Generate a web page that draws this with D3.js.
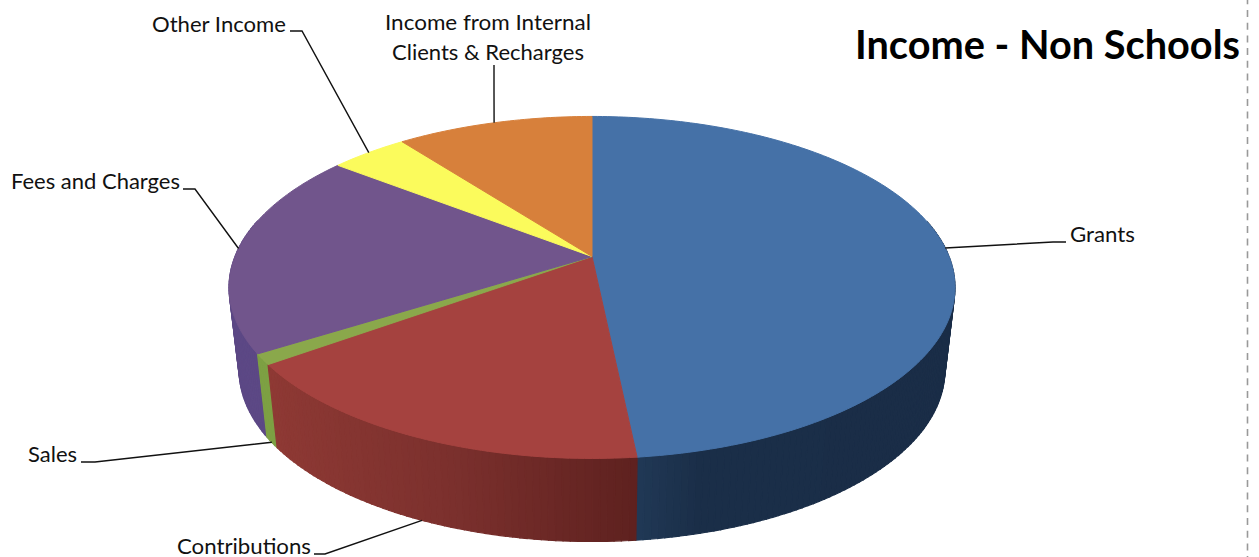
<!DOCTYPE html>
<html><head><meta charset="utf-8">
<script src="https://cdn.jsdelivr.net/npm/d3@7"></script>
<style>html,body{margin:0;padding:0;background:#fff;overflow:hidden}svg{display:block}text{font-family:Lato,"Open Sans",sans-serif;fill:#111}</style>
</head><body><svg id="c" width="1259" height="557"></svg>
<script>
const categories=["Grants","Contributions","Sales","Fees and Charges","Other Income","Income from Internal Clients & Recharges"];
const values=[48.3,16.7,1.0,19.4,4.1,10.4];
const topColors=["#4571a7","#a5423f","#8aa84b","#71558c","#fbfb5c","#d7803b"];
const wallStops=[["#25405f","#1a2e48","#1a2d47"],["#8e3934","#7b302d","#5e211f"],["#7da043","#7da043","#7da043"],["#5c4885","#5c4885","#4d3c72"],["#b8b843","#b8b843","#b8b843"],["#9c5d2b","#9c5d2b","#9c5d2b"]];
const title="Income - Non Schools";

// layout
const cx=592,K=0.181;
const topDisc={apex:256.5,R:357,S:165.4}, baseDisc={apex:339.5,R:347,S:165.4};
const project=(disc,a)=>{const X=Math.sin(a),Y=-Math.cos(a),w=1-K*Y;return [cx+disc.R*X/w,disc.apex+disc.S*Y/w];};
const labelLayout=[
 {lines:[{t:"Grants",x:1070,y:241.7,w:65}],elbow:[1053,242],end:[1066,242],disc:"top"},
 {lines:[{t:"Contributions",x:177,y:553.7,w:134}],elbow:[325,554],end:[314,554],disc:"base"},
 {lines:[{t:"Sales",x:28,y:461.7,w:49}],elbow:[95,462],end:[81,462],disc:"base"},
 {lines:[{t:"Fees and Charges",x:11,y:188.7,w:169}],elbow:[195,189],end:[183,189],disc:"top"},
 {lines:[{t:"Other Income",x:152,y:31.5,w:134}],elbow:[302,31],end:[290,31],disc:"top"},
 {lines:[{t:"Income from Internal",x:385,y:29.5,w:206},{t:"Clients & Recharges",x:392,y:59.5,w:192}],elbow:[494,90],end:[494,65],disc:"top"}
];

const svg=d3.select("#c");
const arcs=d3.pie().sort(null).startAngle(0).endAngle(2*Math.PI)(values);
const step=Math.PI/180;
const sample=(d)=>{const n=Math.max(2,Math.ceil((d.endAngle-d.startAngle)/step));return d3.range(n+1).map(i=>d.startAngle+(d.endAngle-d.startAngle)*i/n);};
const line=d3.line();

// walls, one narrow strip per step, coloured by horizontal position
const strips=[];
arcs.forEach((d,i)=>{
  const as=sample(d),pts=as.map(a=>project(topDisc,a)[0]);
  const lo=d3.min(pts),hi=d3.max(pts);
  const color=d3.scaleLinear().domain([lo,lo+(hi-lo)*(i===0?0.3:0.5),hi]).range(wallStops[i]).clamp(true);
  for(let j=0;j<as.length-1;j++){
    const a=as[j],b=as[j+1],y=-Math.cos((a+b)/2);
    if(y<-0.22) continue; // hidden behind the top surface
    const p=[project(topDisc,a),project(topDisc,b),project(baseDisc,b),project(baseDisc,a)];
    strips.push({p,y,fill:color((p[0][0]+p[1][0])/2)});
  }
});
strips.sort((a,b)=>a.y-b.y);
svg.append("g").selectAll("path").data(strips).join("path")
  .attr("d",d=>line(d.p)+"Z").attr("fill",d=>d.fill).attr("stroke",d=>d.fill).attr("stroke-width",1.2);

// top surface
svg.append("g").selectAll("path").data(arcs).join("path")
  .attr("d",d=>line([[cx,topDisc.apex],...sample(d).map(a=>project(topDisc,a))])+"Z")
  .attr("fill",(d,i)=>topColors[i]).attr("stroke",(d,i)=>topColors[i]).attr("stroke-width",1);

// leaders
svg.append("g").selectAll("path").data(arcs).join("path")
  .attr("d",(d,i)=>{const L=labelLayout[i];const anchor=project(L.disc==="top"?topDisc:baseDisc,(d.startAngle+d.endAngle)/2);return line([anchor,L.elbow,L.end]);})
  .attr("fill","none").attr("stroke","#111").attr("stroke-width",1.4);

// labels
const labelG=svg.append("g");
labelLayout.forEach(L=>L.lines.forEach(l=>{
  labelG.append("text").attr("x",l.x).attr("y",l.y).attr("font-size",21.5).attr("textLength",l.w).attr("lengthAdjust","spacingAndGlyphs").text(l.t);
}));
svg.append("text").attr("x",855).attr("y",58.5).attr("font-size",40).attr("font-weight",700).attr("textLength",385).attr("lengthAdjust","spacingAndGlyphs").style("fill","#000").text(title);

// page border
svg.append("line").attr("x1",1247.5).attr("x2",1247.5).attr("y1",0).attr("y2",557).attr("stroke","#999").attr("stroke-width",1.6).attr("stroke-dasharray","7,5.7").attr("stroke-dashoffset",2.7);
</script></body></html>
